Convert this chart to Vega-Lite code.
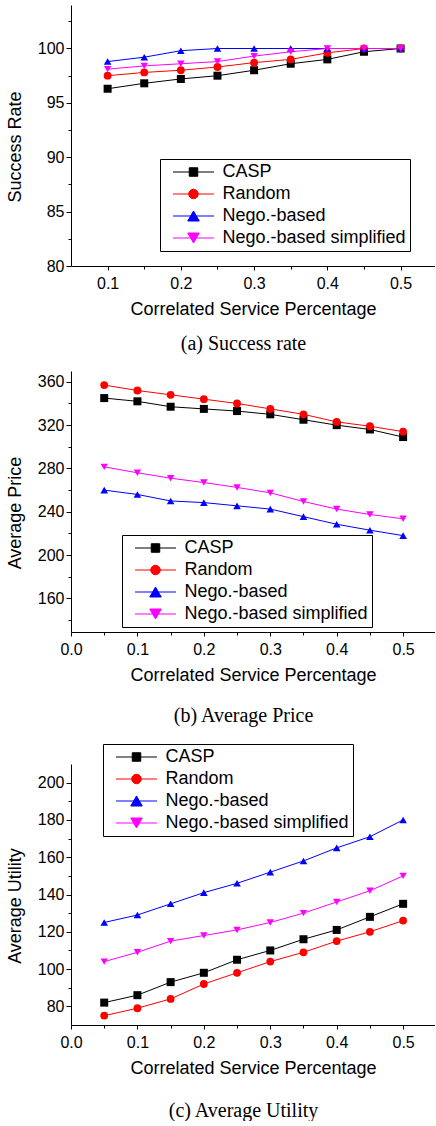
{
  "$schema": "https://vega.github.io/schema/vega-lite/v6.json",
  "padding": {"left": 6, "top": 5, "right": 0, "bottom": 0},
  "background": "white",
  "spacing": 17,
  "datasets": {
    "rate": [
      {"series": "CASP", "x": 0.1, "y": 96.3}, {"series": "CASP", "x": 0.15, "y": 96.8}, {"series": "CASP", "x": 0.2, "y": 97.2}, {"series": "CASP", "x": 0.25, "y": 97.5}, {"series": "CASP", "x": 0.3, "y": 98.0}, {"series": "CASP", "x": 0.35, "y": 98.6}, {"series": "CASP", "x": 0.4, "y": 99.0}, {"series": "CASP", "x": 0.45, "y": 99.7}, {"series": "CASP", "x": 0.5, "y": 100},
      {"series": "Random", "x": 0.1, "y": 97.5}, {"series": "Random", "x": 0.15, "y": 97.8}, {"series": "Random", "x": 0.2, "y": 98.0}, {"series": "Random", "x": 0.25, "y": 98.3}, {"series": "Random", "x": 0.3, "y": 98.7}, {"series": "Random", "x": 0.35, "y": 99.0}, {"series": "Random", "x": 0.4, "y": 99.6}, {"series": "Random", "x": 0.45, "y": 100}, {"series": "Random", "x": 0.5, "y": 100},
      {"series": "Nego.-based", "x": 0.1, "y": 98.8}, {"series": "Nego.-based", "x": 0.15, "y": 99.2}, {"series": "Nego.-based", "x": 0.2, "y": 99.8}, {"series": "Nego.-based", "x": 0.25, "y": 100}, {"series": "Nego.-based", "x": 0.3, "y": 100}, {"series": "Nego.-based", "x": 0.35, "y": 100}, {"series": "Nego.-based", "x": 0.4, "y": 100}, {"series": "Nego.-based", "x": 0.45, "y": 100}, {"series": "Nego.-based", "x": 0.5, "y": 100},
      {"series": "Nego.-based simplified", "x": 0.1, "y": 98.1}, {"series": "Nego.-based simplified", "x": 0.15, "y": 98.4}, {"series": "Nego.-based simplified", "x": 0.2, "y": 98.6}, {"series": "Nego.-based simplified", "x": 0.25, "y": 98.8}, {"series": "Nego.-based simplified", "x": 0.3, "y": 99.3}, {"series": "Nego.-based simplified", "x": 0.35, "y": 99.7}, {"series": "Nego.-based simplified", "x": 0.4, "y": 100}, {"series": "Nego.-based simplified", "x": 0.45, "y": 100}, {"series": "Nego.-based simplified", "x": 0.5, "y": 100}
    ],
    "price": [
      {"series": "CASP", "x": 0.05, "y": 345}, {"series": "CASP", "x": 0.1, "y": 342}, {"series": "CASP", "x": 0.15, "y": 337}, {"series": "CASP", "x": 0.2, "y": 335}, {"series": "CASP", "x": 0.25, "y": 333}, {"series": "CASP", "x": 0.3, "y": 330}, {"series": "CASP", "x": 0.35, "y": 325}, {"series": "CASP", "x": 0.4, "y": 320}, {"series": "CASP", "x": 0.45, "y": 316}, {"series": "CASP", "x": 0.5, "y": 309},
      {"series": "Random", "x": 0.05, "y": 357}, {"series": "Random", "x": 0.1, "y": 352}, {"series": "Random", "x": 0.15, "y": 348}, {"series": "Random", "x": 0.2, "y": 344}, {"series": "Random", "x": 0.25, "y": 340}, {"series": "Random", "x": 0.3, "y": 335}, {"series": "Random", "x": 0.35, "y": 330}, {"series": "Random", "x": 0.4, "y": 323}, {"series": "Random", "x": 0.45, "y": 319}, {"series": "Random", "x": 0.5, "y": 314},
      {"series": "Nego.-based", "x": 0.05, "y": 260}, {"series": "Nego.-based", "x": 0.1, "y": 256}, {"series": "Nego.-based", "x": 0.15, "y": 250}, {"series": "Nego.-based", "x": 0.2, "y": 248.5}, {"series": "Nego.-based", "x": 0.25, "y": 245.5}, {"series": "Nego.-based", "x": 0.3, "y": 242.5}, {"series": "Nego.-based", "x": 0.35, "y": 235.5}, {"series": "Nego.-based", "x": 0.4, "y": 228.5}, {"series": "Nego.-based", "x": 0.45, "y": 223}, {"series": "Nego.-based", "x": 0.5, "y": 218},
      {"series": "Nego.-based simplified", "x": 0.05, "y": 281.5}, {"series": "Nego.-based simplified", "x": 0.1, "y": 276}, {"series": "Nego.-based simplified", "x": 0.15, "y": 271}, {"series": "Nego.-based simplified", "x": 0.2, "y": 267}, {"series": "Nego.-based simplified", "x": 0.25, "y": 262.5}, {"series": "Nego.-based simplified", "x": 0.3, "y": 257.5}, {"series": "Nego.-based simplified", "x": 0.35, "y": 249.5}, {"series": "Nego.-based simplified", "x": 0.4, "y": 242.5}, {"series": "Nego.-based simplified", "x": 0.45, "y": 237.5}, {"series": "Nego.-based simplified", "x": 0.5, "y": 233.5}
    ],
    "utility": [
      {"series": "CASP", "x": 0.05, "y": 82}, {"series": "CASP", "x": 0.1, "y": 86}, {"series": "CASP", "x": 0.15, "y": 93}, {"series": "CASP", "x": 0.2, "y": 98}, {"series": "CASP", "x": 0.25, "y": 105}, {"series": "CASP", "x": 0.3, "y": 110}, {"series": "CASP", "x": 0.35, "y": 116}, {"series": "CASP", "x": 0.4, "y": 121}, {"series": "CASP", "x": 0.45, "y": 128}, {"series": "CASP", "x": 0.5, "y": 135},
      {"series": "Random", "x": 0.05, "y": 75}, {"series": "Random", "x": 0.1, "y": 79}, {"series": "Random", "x": 0.15, "y": 84}, {"series": "Random", "x": 0.2, "y": 92}, {"series": "Random", "x": 0.25, "y": 98}, {"series": "Random", "x": 0.3, "y": 104}, {"series": "Random", "x": 0.35, "y": 109}, {"series": "Random", "x": 0.4, "y": 115}, {"series": "Random", "x": 0.45, "y": 120}, {"series": "Random", "x": 0.5, "y": 126},
      {"series": "Nego.-based", "x": 0.05, "y": 125}, {"series": "Nego.-based", "x": 0.1, "y": 129}, {"series": "Nego.-based", "x": 0.15, "y": 135}, {"series": "Nego.-based", "x": 0.2, "y": 141}, {"series": "Nego.-based", "x": 0.25, "y": 146}, {"series": "Nego.-based", "x": 0.3, "y": 152}, {"series": "Nego.-based", "x": 0.35, "y": 158}, {"series": "Nego.-based", "x": 0.4, "y": 165}, {"series": "Nego.-based", "x": 0.45, "y": 171}, {"series": "Nego.-based", "x": 0.5, "y": 180},
      {"series": "Nego.-based simplified", "x": 0.05, "y": 104}, {"series": "Nego.-based simplified", "x": 0.1, "y": 109}, {"series": "Nego.-based simplified", "x": 0.15, "y": 115}, {"series": "Nego.-based simplified", "x": 0.2, "y": 118}, {"series": "Nego.-based simplified", "x": 0.25, "y": 121}, {"series": "Nego.-based simplified", "x": 0.3, "y": 125}, {"series": "Nego.-based simplified", "x": 0.35, "y": 130}, {"series": "Nego.-based simplified", "x": 0.4, "y": 136}, {"series": "Nego.-based simplified", "x": 0.45, "y": 142}, {"series": "Nego.-based simplified", "x": 0.5, "y": 150}
    ]
  },
  "vconcat": [
    {
      "width": 364, "height": 261,
      "data": {"name": "rate"},
      "title": {"text": "(a) Success rate", "orient": "bottom", "offset": 16, "frame": "group", "anchor": "middle", "dx": -9.5},
      "layer": [
        {
          "mark": {"type": "line", "strokeWidth": 1},
          "encoding": {
            "x": {"field": "x", "type": "quantitative", "scale": {"domain": [0.05, 0.547], "nice": false, "zero": false}, "axis": {"values": [0.1, 0.2, 0.3, 0.4, 0.5], "format": ".1f", "title": "Correlated Service Percentage"}},
            "y": {"field": "y", "type": "quantitative", "scale": {"domain": [80, 104], "nice": false, "zero": false}, "axis": {"values": [80, 85, 90, 95, 100], "title": "Success Rate", "titleY": 141.5}},
            "color": {"field": "series", "type": "nominal", "scale": {"domain": ["CASP", "Random", "Nego.-based", "Nego.-based simplified"], "range": ["#000000", "#ff0000", "#0000ff", "#ff00ff"]}, "legend": null}
          }
        },
        {
          "mark": {"type": "point", "filled": true, "opacity": 1},
          "encoding": {
            "x": {"field": "x", "type": "quantitative", "axis": null},
            "y": {"field": "y", "type": "quantitative", "axis": null},
            "color": {"field": "series", "type": "nominal", "scale": {"domain": ["CASP", "Random", "Nego.-based", "Nego.-based simplified"], "range": ["#000000", "#ff0000", "#0000ff", "#ff00ff"]}, "legend": null},
            "shape": {"field": "series", "type": "nominal", "scale": {"domain": ["CASP", "Random", "Nego.-based", "Nego.-based simplified"], "range": ["square", "circle", "triangle-up", "triangle-down"]}, "legend": null},
            "size": {"field": "series", "type": "nominal", "scale": {"domain": ["CASP", "Random", "Nego.-based", "Nego.-based simplified"], "range": [64, 55, 100, 100]}, "legend": null}
          }
        },
        {
          "transform": [{"filter": "false"}],
          "mark": {"type": "point", "filled": true, "opacity": 1},
          "encoding": {
            "x": {"field": "x", "type": "quantitative", "axis": {"orient": "bottom", "values": [0.15, 0.25, 0.35, 0.45], "labels": false, "domain": false, "tickSize": 3, "title": null}},
            "y": {"field": "y", "type": "quantitative", "axis": {"orient": "left", "values": [82.5, 87.5, 92.5, 97.5, 102.5], "labels": false, "domain": false, "tickSize": 3, "title": null}},
            "fill": {"field": "series", "type": "nominal", "scale": {"domain": ["CASP", "Random", "Nego.-based", "Nego.-based simplified"], "range": ["#000000", "#ff0000", "#0000ff", "#ff00ff"]}, "legend": {"orient": "none", "legendX": 89, "legendY": 154, "title": null, "labelFont": "Liberation Sans", "labelFontSize": 18, "labelColor": "black", "labelLimit": 400, "strokeColor": "black", "fillColor": "white", "padding": 4, "rowPadding": 4, "symbolSize": 100, "symbolStrokeWidth": 1, "symbolOffset": 20.5, "labelOffset": 20, "symbolOpacity": 1}},
            "stroke": {"field": "series", "type": "nominal", "scale": {"domain": ["CASP", "Random", "Nego.-based", "Nego.-based simplified"], "range": ["#000000", "#ff0000", "#0000ff", "#ff00ff"]}, "legend": {"orient": "none", "legendX": 89, "legendY": 154, "title": null, "labelFont": "Liberation Sans", "labelFontSize": 18, "labelColor": "black", "labelLimit": 400, "strokeColor": "black", "fillColor": "white", "padding": 4, "rowPadding": 4, "symbolSize": 100, "symbolStrokeWidth": 1, "symbolOffset": 20.5, "labelOffset": 20, "symbolOpacity": 1}},
            "shape": {"field": "series", "type": "nominal", "scale": {"domain": ["CASP", "Random", "Nego.-based", "Nego.-based simplified"], "range": ["M-4.1,0H4.1M-0.85,-0.85H0.85V0.85H-0.85Z", "M-4.1,0H4.1M0.95,0A0.95,0.95,0,1,1,-0.95,0A0.95,0.95,0,1,1,0.95,0Z", "M-4.1,0H4.1M0,-1L1.15,1L-1.15,1Z", "M-4.1,0H4.1M0,1L1.15,-1L-1.15,-1Z"]}, "legend": {"orient": "none", "legendX": 89, "legendY": 154, "title": null, "labelFont": "Liberation Sans", "labelFontSize": 18, "labelColor": "black", "labelLimit": 400, "strokeColor": "black", "fillColor": "white", "padding": 4, "rowPadding": 4, "symbolSize": 100, "symbolStrokeWidth": 1, "symbolOffset": 20.5, "labelOffset": 20, "symbolOpacity": 1}}
          }
        }
      ],
      "resolve": {"scale": {"color": "independent", "shape": "independent", "fill": "independent", "stroke": "independent", "size": "independent"}, "axis": {"x": "independent", "y": "independent"}}
    },
    {
      "width": 364, "height": 261,
      "data": {"name": "price"},
      "title": {"text": "(b) Average Price", "orient": "bottom", "offset": 22, "frame": "group", "anchor": "middle", "dx": -9.5},
      "layer": [
        {
          "mark": {"type": "line", "strokeWidth": 1},
          "encoding": {
            "x": {"field": "x", "type": "quantitative", "scale": {"domain": [0, 0.548], "nice": false, "zero": false}, "axis": {"values": [0, 0.1, 0.2, 0.3, 0.4, 0.5], "format": ".1f", "title": "Correlated Service Percentage"}},
            "y": {"field": "y", "type": "quantitative", "scale": {"domain": [129, 370], "nice": false, "zero": false}, "axis": {"values": [160, 200, 240, 280, 320, 360], "title": "Average Price", "titleY": 141.5}},
            "color": {"field": "series", "type": "nominal", "scale": {"domain": ["CASP", "Random", "Nego.-based", "Nego.-based simplified"], "range": ["#000000", "#ff0000", "#0000ff", "#ff00ff"]}, "legend": null}
          }
        },
        {
          "mark": {"type": "point", "filled": true, "opacity": 1},
          "encoding": {
            "x": {"field": "x", "type": "quantitative", "axis": null},
            "y": {"field": "y", "type": "quantitative", "axis": null},
            "color": {"field": "series", "type": "nominal", "scale": {"domain": ["CASP", "Random", "Nego.-based", "Nego.-based simplified"], "range": ["#000000", "#ff0000", "#0000ff", "#ff00ff"]}, "legend": null},
            "shape": {"field": "series", "type": "nominal", "scale": {"domain": ["CASP", "Random", "Nego.-based", "Nego.-based simplified"], "range": ["square", "circle", "triangle-up", "triangle-down"]}, "legend": null},
            "size": {"field": "series", "type": "nominal", "scale": {"domain": ["CASP", "Random", "Nego.-based", "Nego.-based simplified"], "range": [64, 55, 100, 100]}, "legend": null}
          }
        },
        {
          "transform": [{"filter": "false"}],
          "mark": {"type": "point", "filled": true, "opacity": 1},
          "encoding": {
            "x": {"field": "x", "type": "quantitative", "axis": {"orient": "bottom", "values": [0.05, 0.15, 0.25, 0.35, 0.45], "labels": false, "domain": false, "tickSize": 3, "title": null}},
            "y": {"field": "y", "type": "quantitative", "axis": {"orient": "left", "values": [140, 180, 220, 260, 300, 340], "labels": false, "domain": false, "tickSize": 3, "title": null}},
            "fill": {"field": "series", "type": "nominal", "scale": {"domain": ["CASP", "Random", "Nego.-based", "Nego.-based simplified"], "range": ["#000000", "#ff0000", "#0000ff", "#ff00ff"]}, "legend": {"orient": "none", "legendX": 51, "legendY": 164, "title": null, "labelFont": "Liberation Sans", "labelFontSize": 18, "labelColor": "black", "labelLimit": 400, "strokeColor": "black", "fillColor": "white", "padding": 4, "rowPadding": 4, "symbolSize": 100, "symbolStrokeWidth": 1, "symbolOffset": 20.5, "labelOffset": 20, "symbolOpacity": 1}},
            "stroke": {"field": "series", "type": "nominal", "scale": {"domain": ["CASP", "Random", "Nego.-based", "Nego.-based simplified"], "range": ["#000000", "#ff0000", "#0000ff", "#ff00ff"]}, "legend": {"orient": "none", "legendX": 51, "legendY": 164, "title": null, "labelFont": "Liberation Sans", "labelFontSize": 18, "labelColor": "black", "labelLimit": 400, "strokeColor": "black", "fillColor": "white", "padding": 4, "rowPadding": 4, "symbolSize": 100, "symbolStrokeWidth": 1, "symbolOffset": 20.5, "labelOffset": 20, "symbolOpacity": 1}},
            "shape": {"field": "series", "type": "nominal", "scale": {"domain": ["CASP", "Random", "Nego.-based", "Nego.-based simplified"], "range": ["M-4.1,0H4.1M-0.85,-0.85H0.85V0.85H-0.85Z", "M-4.1,0H4.1M0.95,0A0.95,0.95,0,1,1,-0.95,0A0.95,0.95,0,1,1,0.95,0Z", "M-4.1,0H4.1M0,-1L1.15,1L-1.15,1Z", "M-4.1,0H4.1M0,1L1.15,-1L-1.15,-1Z"]}, "legend": {"orient": "none", "legendX": 51, "legendY": 164, "title": null, "labelFont": "Liberation Sans", "labelFontSize": 18, "labelColor": "black", "labelLimit": 400, "strokeColor": "black", "fillColor": "white", "padding": 4, "rowPadding": 4, "symbolSize": 100, "symbolStrokeWidth": 1, "symbolOffset": 20.5, "labelOffset": 20, "symbolOpacity": 1}}
          }
        }
      ],
      "resolve": {"scale": {"color": "independent", "shape": "independent", "fill": "independent", "stroke": "independent", "size": "independent"}, "axis": {"x": "independent", "y": "independent"}}
    },
    {
      "width": 364, "height": 261,
      "data": {"name": "utility"},
      "title": {"text": "(c) Average Utility", "orient": "bottom", "offset": 24, "frame": "group", "anchor": "middle", "dx": -9.5},
      "layer": [
        {
          "mark": {"type": "line", "strokeWidth": 1},
          "encoding": {
            "x": {"field": "x", "type": "quantitative", "scale": {"domain": [0, 0.548], "nice": false, "zero": false}, "axis": {"values": [0, 0.1, 0.2, 0.3, 0.4, 0.5], "format": ".1f", "title": "Correlated Service Percentage"}},
            "y": {"field": "y", "type": "quantitative", "scale": {"domain": [70, 210], "nice": false, "zero": false}, "axis": {"values": [80, 100, 120, 140, 160, 180, 200], "title": "Average Utility", "titleY": 141.5}},
            "color": {"field": "series", "type": "nominal", "scale": {"domain": ["CASP", "Random", "Nego.-based", "Nego.-based simplified"], "range": ["#000000", "#ff0000", "#0000ff", "#ff00ff"]}, "legend": null}
          }
        },
        {
          "mark": {"type": "point", "filled": true, "opacity": 1},
          "encoding": {
            "x": {"field": "x", "type": "quantitative", "axis": null},
            "y": {"field": "y", "type": "quantitative", "axis": null},
            "color": {"field": "series", "type": "nominal", "scale": {"domain": ["CASP", "Random", "Nego.-based", "Nego.-based simplified"], "range": ["#000000", "#ff0000", "#0000ff", "#ff00ff"]}, "legend": null},
            "shape": {"field": "series", "type": "nominal", "scale": {"domain": ["CASP", "Random", "Nego.-based", "Nego.-based simplified"], "range": ["square", "circle", "triangle-up", "triangle-down"]}, "legend": null},
            "size": {"field": "series", "type": "nominal", "scale": {"domain": ["CASP", "Random", "Nego.-based", "Nego.-based simplified"], "range": [64, 55, 100, 100]}, "legend": null}
          }
        },
        {
          "transform": [{"filter": "false"}],
          "mark": {"type": "point", "filled": true, "opacity": 1},
          "encoding": {
            "x": {"field": "x", "type": "quantitative", "axis": {"orient": "bottom", "values": [0.05, 0.15, 0.25, 0.35, 0.45], "labels": false, "domain": false, "tickSize": 3, "title": null}},
            "y": {"field": "y", "type": "quantitative", "axis": {"orient": "left", "values": [90, 110, 130, 150, 170, 190], "labels": false, "domain": false, "tickSize": 3, "title": null}},
            "fill": {"field": "series", "type": "nominal", "scale": {"domain": ["CASP", "Random", "Nego.-based", "Nego.-based simplified"], "range": ["#000000", "#ff0000", "#0000ff", "#ff00ff"]}, "legend": {"orient": "none", "legendX": 32, "legendY": -20, "title": null, "labelFont": "Liberation Sans", "labelFontSize": 18, "labelColor": "black", "labelLimit": 400, "strokeColor": "black", "fillColor": "white", "padding": 4, "rowPadding": 4, "symbolSize": 100, "symbolStrokeWidth": 1, "symbolOffset": 20.5, "labelOffset": 20, "symbolOpacity": 1}},
            "stroke": {"field": "series", "type": "nominal", "scale": {"domain": ["CASP", "Random", "Nego.-based", "Nego.-based simplified"], "range": ["#000000", "#ff0000", "#0000ff", "#ff00ff"]}, "legend": {"orient": "none", "legendX": 32, "legendY": -20, "title": null, "labelFont": "Liberation Sans", "labelFontSize": 18, "labelColor": "black", "labelLimit": 400, "strokeColor": "black", "fillColor": "white", "padding": 4, "rowPadding": 4, "symbolSize": 100, "symbolStrokeWidth": 1, "symbolOffset": 20.5, "labelOffset": 20, "symbolOpacity": 1}},
            "shape": {"field": "series", "type": "nominal", "scale": {"domain": ["CASP", "Random", "Nego.-based", "Nego.-based simplified"], "range": ["M-4.1,0H4.1M-0.85,-0.85H0.85V0.85H-0.85Z", "M-4.1,0H4.1M0.95,0A0.95,0.95,0,1,1,-0.95,0A0.95,0.95,0,1,1,0.95,0Z", "M-4.1,0H4.1M0,-1L1.15,1L-1.15,1Z", "M-4.1,0H4.1M0,1L1.15,-1L-1.15,-1Z"]}, "legend": {"orient": "none", "legendX": 32, "legendY": -20, "title": null, "labelFont": "Liberation Sans", "labelFontSize": 18, "labelColor": "black", "labelLimit": 400, "strokeColor": "black", "fillColor": "white", "padding": 4, "rowPadding": 4, "symbolSize": 100, "symbolStrokeWidth": 1, "symbolOffset": 20.5, "labelOffset": 20, "symbolOpacity": 1}}
          }
        }
      ],
      "resolve": {"scale": {"color": "independent", "shape": "independent", "fill": "independent", "stroke": "independent", "size": "independent"}, "axis": {"x": "independent", "y": "independent"}}
    }
  ],
  "resolve": {"scale": {"color": "independent", "shape": "independent", "fill": "independent", "stroke": "independent", "size": "independent"}, "legend": {"color": "independent", "shape": "independent", "fill": "independent", "stroke": "independent", "size": "independent"}},
  "config": {
    "view": {"stroke": null},
    "axis": {"labelFont": "Liberation Sans", "labelFontSize": 16, "labelColor": "black", "titleFont": "Liberation Sans", "titleFontSize": 18, "titleFontWeight": "normal", "titleColor": "black", "domainColor": "black", "tickColor": "black", "grid": false, "domainWidth": 1, "tickWidth": 1, "labelFlush": false, "labelOverlap": false},
    "axisX": {"tickSize": 4, "labelPadding": 5, "titlePadding": 9},
    "axisY": {"tickSize": 5, "labelPadding": 2, "titlePadding": 13},
    "title": {"font": "Liberation Serif", "fontSize": 20, "fontWeight": "normal", "color": "black"}
  }
}
